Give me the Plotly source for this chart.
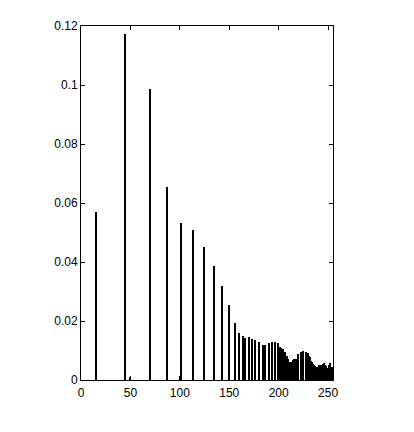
import plotly.graph_objects as go

# Isolated, well-separated peaks (thick stems)
peak_bins = [15, 44.6, 70, 87.3, 113.5, 124.4, 134.9, 143, 150.2,
             166, 169.8, 173.3, 176.7, 180.3, 184.6, 186.3, 190.2, 193.6, 196.3, 199.7,
             220, 222.5, 225, 227.5, 230]
peak_counts = [0.0571, 0.1173, 0.0988, 0.0655, 0.0508, 0.0452, 0.0388, 0.0319, 0.0255,
               0.0144, 0.0147, 0.0139, 0.0136, 0.0129, 0.0120, 0.0117, 0.0124, 0.0129, 0.0129, 0.0124,
               0.0088, 0.0095, 0.0099, 0.0095, 0.0090]

# Thin single-pixel stems
thin_bins = [49.5, 99.7, 101, 155.6, 160.1, 163.5]
thin_counts = [0.0011, 0.0013, 0.0533, 0.0192, 0.0160, 0.0149]

# Dense (contiguous) region of the histogram
dense_bins = list(range(201, 219)) + list(range(231, 256))
dense_counts = [0.0112, 0.0110, 0.0106, 0.0106, 0.0095, 0.0095, 0.0083, 0.0083, 0.0072,
                0.0072, 0.0062, 0.0060, 0.0059, 0.0062, 0.0068, 0.0070, 0.0072, 0.0072,
                0.0082, 0.0077, 0.0065, 0.0061, 0.0055, 0.0052, 0.0046, 0.0043, 0.0044,
                0.0044, 0.0050, 0.0052, 0.0050, 0.0050, 0.0054, 0.0056, 0.0050, 0.0048,
                0.0042, 0.0040, 0.0052, 0.0056, 0.0045, 0.0043, 0.0043]

x_ticks = [0, 50, 100, 150, 200, 250]
y_ticks = [0, 0.02, 0.04, 0.06, 0.08, 0.1, 0.12]
y_tick_text = ["0", "0.02", "0.04", "0.06", "0.08", "0.1", "0.12"]

fig = go.Figure()
fig.add_trace(go.Bar(x=peak_bins, y=peak_counts, width=1.6,
                     marker=dict(color="black", line=dict(width=0))))
fig.add_trace(go.Bar(x=thin_bins, y=thin_counts, width=1.0,
                     marker=dict(color="black", line=dict(width=0))))
fig.add_trace(go.Bar(x=dense_bins, y=dense_counts, width=1.1,
                     marker=dict(color="black", line=dict(width=0))))

axis_common = dict(showline=True, linecolor="black", linewidth=1, mirror="ticks",
                   ticks="inside", ticklen=4, tickcolor="black", showgrid=False,
                   zeroline=False, tickfont=dict(family="Liberation Sans, Arial", size=12, color="black"))

fig.update_layout(
    width=414, height=432,
    margin=dict(l=73, r=89, t=18, b=60),
    paper_bgcolor="white", plot_bgcolor="white",
    showlegend=False, barmode="overlay", bargap=0,
    xaxis=dict(range=[0, 255], tickvals=x_ticks, ticklabelstandoff=2, **axis_common),
    yaxis=dict(range=[0, 0.12], tickvals=y_ticks, ticktext=y_tick_text, **axis_common),
)

fig.write_html("out.html")
